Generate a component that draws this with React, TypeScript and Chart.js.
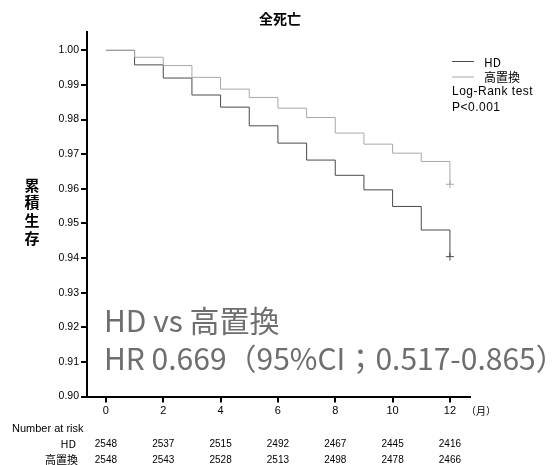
import React, { useEffect, useRef } from "react";
import { Chart, registerables } from "chart.js";

Chart.register(...registerables);

const months = [0, 1, 2, 3, 4, 5, 6, 7, 8, 9, 10, 11, 12];
const hdSurvival = [1.0, 0.9958, 0.992, 0.9871, 0.9836, 0.9782, 0.9732, 0.9683, 0.9639, 0.9597, 0.9549, 0.9481, 0.9404];
const highSurvival = [1.0, 0.998, 0.9956, 0.9922, 0.9888, 0.9864, 0.9833, 0.9806, 0.9761, 0.9729, 0.9703, 0.9679, 0.9613];
const xTicks = [0, 2, 4, 6, 8, 10, 12];
const yTicks = [0.9, 0.91, 0.92, 0.93, 0.94, 0.95, 0.96, 0.97, 0.98, 0.99, 1.0];
const riskTimes = [0, 2, 4, 6, 8, 10, 12];
const riskHD = [2548, 2537, 2515, 2492, 2467, 2445, 2416];
const riskHigh = [2548, 2543, 2528, 2513, 2498, 2478, 2466];
const seriesNames = ["HD", "高置換"];
const seriesColors = ["#4a4a4a", "#a8a8a8"];
const titleText = "全死亡";
const yTitleChars = ["累", "積", "生", "存"];
const hrLine1 = "HD vs 高置換";
const hrLine2 = "HR 0.669（95%CI；0.517-0.865）";

const JP = '"Noto Sans CJK JP", "Liberation Sans", sans-serif';
const LS = '"Liberation Sans", "Noto Sans CJK JP", sans-serif';

const overlay = {
  id: "overlay",
  afterDraw(chart: any) {
    const ctx = chart.ctx as CanvasRenderingContext2D;
    const xs = chart.scales.x;
    ctx.save();
    ctx.fillStyle = "#000";
    ctx.font = `bold 14px ${JP}`;
    ctx.textAlign = "center";
    ctx.textBaseline = "middle";
    ctx.fillText(titleText, 280, 19);
    ctx.font = `bold 15px ${JP}`;
    yTitleChars.forEach((c, i) => ctx.fillText(c, 32, 185 + i * 17.7));
    ctx.lineWidth = 1;
    seriesNames.forEach((n, i) => {
      const y = 61 + i * 15.5;
      ctx.strokeStyle = seriesColors[i];
      ctx.beginPath();
      ctx.moveTo(452, y + 0.5);
      ctx.lineTo(474, y + 0.5);
      ctx.stroke();
      ctx.fillStyle = "#000";
      ctx.textAlign = "left";
      ctx.font = `12px ${JP}`;
      ctx.fillText(n, 484, y + 1);
    });
    ctx.font = `12px ${LS}`;
    (ctx as any).letterSpacing = "0.5px";
    ctx.fillText("Log-Rank test", 452, 92);
    ctx.fillText("P<0.001", 452, 108);
    (ctx as any).letterSpacing = "0px";
    ctx.font = `10px ${JP}`;
    ctx.fillText("（月）", 466, 411);
    ctx.fillStyle = "#6e6e6e";
    ctx.font = `30px ${JP}`;
    ctx.textBaseline = "alphabetic";
    ctx.fillText(hrLine1, 104, 332);
    ctx.fillText(hrLine2, 104, 370);
    ctx.fillStyle = "#000";
    ctx.textBaseline = "middle";
    ctx.font = `11px ${LS}`;
    ctx.fillText("Number at risk", 12, 429);
    ctx.textAlign = "right";
    ctx.font = `11px ${JP}`;
    ctx.fillText(seriesNames[0], 76, 444);
    ctx.fillText(seriesNames[1], 78, 460);
    ctx.textAlign = "center";
    ctx.font = `10px ${LS}`;
    riskTimes.forEach((t, i) => {
      const x = xs.getPixelForValue(t);
      ctx.fillText(String(riskHD[i]), x, 444);
      ctx.fillText(String(riskHigh[i]), x, 460);
    });
    ctx.restore();
  },
};

export default function App() {
  const ref = useRef<HTMLCanvasElement>(null);
  useEffect(() => {
    if (!ref.current) return;
    const mk = (vals: number[], i: number) => ({
      label: seriesNames[i],
      data: months.map((m, k) => ({ x: m, y: vals[k] })),
      borderColor: seriesColors[i],
      backgroundColor: seriesColors[i],
      borderWidth: 1,
      stepped: "before" as const,
      pointStyle: "cross" as const,
      pointRadius: months.map((_, k) => (k === months.length - 1 ? 4 : 0)),
      pointBorderWidth: 1,
      pointBorderColor: seriesColors[i],
      fill: false,
    });
    const chart = new Chart(ref.current, {
      type: "line",
      data: { datasets: [mk(highSurvival, 1), mk(hdSurvival, 0)] },
      options: {
        animation: false,
        responsive: false,
        events: [],
        layout: { padding: { left: 0, right: 90, top: 32, bottom: 0 } },
        plugins: { legend: { display: false }, title: { display: false }, tooltip: { enabled: false } },
        scales: {
          x: {
            type: "linear",
            min: -0.66,
            max: 12.7,
            afterBuildTicks: (s: any) => { s.ticks = xTicks.map((v) => ({ value: v })); },
            afterFit: (s: any) => { s.height = 465 - 396.5; },
            border: { display: true, color: "#000", width: 2 },
            grid: { drawOnChartArea: false, drawTicks: true, tickLength: 6, color: "#000", lineWidth: 2 },
            ticks: { color: "#000", font: { family: LS, size: 11 }, padding: 2, maxRotation: 0, autoSkip: false },
          },
          y: {
            type: "linear",
            min: 0.9,
            max: 1.0053,
            afterBuildTicks: (s: any) => { s.ticks = yTicks.map((v) => ({ value: v })); },
            afterFit: (s: any) => { s.width = 87; },
            border: { display: true, color: "#000", width: 2 },
            grid: { drawOnChartArea: false, drawTicks: true, tickLength: 6, color: "#000", lineWidth: 2 },
            ticks: {
              color: "#000",
              font: { family: LS, size: 10.5 },
              padding: 2,
              autoSkip: false,
              callback: (v: any) => Number(v).toFixed(2),
            },
          },
        },
      },
      plugins: [overlay],
    });
    return () => chart.destroy();
  }, []);
  return (
    <div style={{ position: "fixed", left: 0, top: 0, width: 560, height: 465, background: "#fff" }}>
      <canvas ref={ref} width={560} height={465} style={{ display: "block" }} />
    </div>
  );
}
